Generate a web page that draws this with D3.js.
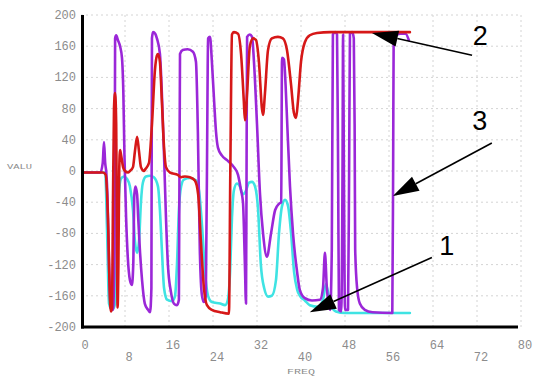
<!DOCTYPE html>
<html><head><meta charset="utf-8">
<script src="https://cdn.jsdelivr.net/npm/d3@7"></script>
<style>html,body{margin:0;padding:0;background:#fff;}svg{display:block;}</style>
</head><body>
<svg id="c" width="538" height="381"></svg>
<script>
// ---- data (frequency, value) ----
const xTicks = [0, 8, 16, 24, 32, 40, 48, 56, 64, 72, 80];
const yTicks = [-200, -160, -120, -80, -40, 0, 40, 80, 120, 160, 200];
const yLabel = "VALU";
const xLabel = "FREQ";

const series1Freq = [0.3,4.4,4.75,5.1,5.65,6.2,6.55,6.9,7.25,7.8,8.35,8.9,9.45,9.8,10.2,10.55,10.9,11.25,11.8,12.55,13.25,14.0,14.35,14.7,15.1,15.65,16.55,17.1,17.45,17.8,18.2,18.7,19.8,20.9,21.45,22.0,22.55,23.1,23.8,25.3,26.2,26.7,27.1,27.45,27.8,28.35,28.9,29.45,30.0,30.55,31.1,31.65,32.2,32.7,33.3,34.0,34.7,35.45,36.0,36.55,37.1,37.65,38.2,38.75,39.3,39.8,40.7,41.6,43.1,44.0,44.55,44.9,45.45,46.35,48.0,59.8];
const series1Val  = [-2,-2,-80,-170,-178,-170,-100,-30,-10,-7,-10,-20,-50,-90,-105,-90,-40,-15,-7,-6,-8,-20,-50,-100,-150,-165,-167,-160,-120,-50,-20,-11,-9,-12,-25,-70,-130,-160,-168,-170,-172,-165,-130,-60,-25,-16,-20,-30,-25,-15,-14,-20,-50,-120,-150,-161,-160,-140,-80,-45,-37,-45,-80,-130,-152,-160,-166,-172,-174,-165,-145,-155,-172,-180,-182,-182];

const series2Freq = [0.3,4.0,4.5,4.9,5.3,5.45,5.65,5.8,6.0,6.2,6.4,6.55,6.65,6.8,6.95,7.1,7.3,7.65,8.0,8.55,8.9,9.45,9.8,10.2,10.55,10.9,11.45,11.65,12.35,12.9,13.45,13.8,14.0,14.35,14.7,15.1,15.45,16.2,17.6,18.2,18.9,19.8,20.7,21.3,21.8,22.35,22.9,23.8,25.3,26.9,27.15,27.45,27.8,28.55,29.1,29.6,29.8,30.2,30.7,31.3,31.8,32.35,32.9,33.1,33.45,34.0,34.7,35.8,36.7,37.45,38.2,38.7,39.1,39.45,40.0,40.7,41.6,42.9,45.3,59.8];
const series2Val  = [-2,-2,-5,-60,-170,-180,-175,-50,80,100,60,-100,-175,-120,0,27,20,5,0,-2,0,5,25,44,25,5,0,2,10,60,130,148,150,140,90,30,5,-2,-5,-8,-7,-8,-12,-30,-90,-150,-172,-178,-181,-183,0,175,178,176,150,90,65,100,160,170,168,140,80,72,100,155,170,172,170,155,110,75,68,90,140,165,174,177,178,178];

const series3Freq = [0.3,3.5,3.95,4.18,4.4,4.6,4.8,5.1,5.4,5.8,6.1,6.2,6.4,6.7,7.1,7.45,7.7,7.9,8.2,8.5,8.9,9.25,9.5,9.7,9.9,10.2,10.4,10.7,11.1,11.6,12.2,12.55,12.8,12.9,13.1,13.5,13.8,14.35,14.7,15.1,15.45,15.8,16.35,16.9,17.45,17.8,18.0,18.5,19.4,20.35,20.9,21.25,21.6,22.0,22.35,22.7,23.0,23.1,23.45,23.8,24.2,24.55,24.9,25.6,26.7,27.8,28.55,29.1,29.45,29.8,30.0,30.1,30.2,30.7,31.1,31.45,32.0,32.55,33.1,33.8,34.55,35.3,36.0,36.4,36.55,36.9,37.2,37.5,38.0,38.55,39.3,39.8,40.7,42.0,43.45,44.0,44.35,44.7,45.3,45.6,45.8,46.2,46.55,46.75,46.9,47.3,47.55,47.65,47.8,48.0,48.55,48.75,48.9,49.3,49.6,49.75,49.85,50.2,50.7,51.6,53.0,56.6,56.75,56.85,58.0,59.0,59.6];
const series3Val  = [-2,-2,10,37,10,-2,-30,-120,-175,-178,-100,170,174,168,160,145,100,20,-60,-110,-140,-146,-120,-30,-20,-30,-60,-100,-140,-170,-178,-181,-150,170,178,176,170,150,100,20,-60,-120,-155,-170,-172,-165,150,155,156,153,140,50,-100,-160,-168,-160,100,170,172,140,90,50,30,20,13,5,-5,-25,-40,-120,-170,0,172,175,172,140,60,-30,-80,-110,-80,-50,-42,-40,145,143,110,60,-20,-80,-130,-153,-163,-166,-165,-150,-105,-150,-178,-100,175,178,175,0,-178,-180,0,175,0,-178,-178,0,176,178,170,60,-100,-150,-170,-178,-181,-182,0,172,176,176,168];

const seriesColors = {s1: "#3fe3e3", s2: "#d61818", s3: "#9b27d8"};

// annotations: label, label position (freq, value), arrow tail and tip (freq, value)
const annotations = [
  {label: "1", lf: 66.5, lv: -108, tf: 63.8, tv: -111, hf: 41.6, hv: -181},
  {label: "2", lf: 72.6, lv: 161, tf: 71.1, tv: 148.5, hf: 52.9, hv: 177},
  {label: "3", lf: 72.5, lv: 52, tf: 74.7, tv: 36, hf: 56.7, hv: -32}
];

// ---- drawing ----
const svg = d3.select("#c");
const x = d3.scaleLinear().domain([0, 80]).range([81, 521]);
const y = d3.scaleLinear().domain([-200, 200]).range([327, 15]);

// grid
const grid = svg.append("g").attr("stroke", "#d4d4d4").attr("stroke-width", 1).attr("stroke-dasharray", "2,3");
grid.selectAll("line.h").data(yTicks.filter(d => d > -200)).join("line")
  .attr("x1", x(0)).attr("x2", x(80)).attr("y1", d => y(d)).attr("y2", d => y(d));
grid.selectAll("line.v").data(xTicks.filter(d => d > 0)).join("line")
  .attr("x1", d => x(d)).attr("x2", d => x(d)).attr("y1", y(200)).attr("y2", y(-200));

// y tick labels
const tickFont = "'Liberation Mono', 'DejaVu Sans Mono', monospace";
svg.append("g").selectAll("text").data(yTicks).join("text")
  .attr("x", 76).attr("y", d => y(d) + 4)
  .attr("text-anchor", "end").attr("font-family", tickFont).attr("font-size", 12)
  .attr("fill", "#8c8c8c").text(d => d);

// x tick labels (staggered)
svg.append("g").selectAll("text").data(xTicks).join("text")
  .attr("x", d => x(d) + 4).attr("y", (d, i) => i % 2 === 0 ? 349 : 361)
  .attr("text-anchor", "middle").attr("font-family", tickFont).attr("font-size", 12)
  .attr("fill", "#8c8c8c").text(d => d);

svg.append("text").attr("x", 7).attr("y", 169).attr("font-family", tickFont)
  .attr("font-size", 8).attr("fill", "#8c8c8c").attr("textLength", 25)
  .attr("lengthAdjust", "spacingAndGlyphs").text(yLabel);
svg.append("text").attr("x", 287).attr("y", 374).attr("font-family", tickFont)
  .attr("font-size", 8).attr("fill", "#8c8c8c").attr("textLength", 28)
  .attr("lengthAdjust", "spacingAndGlyphs").text(xLabel);

// series
const line = d3.line().curve(d3.curveMonotoneX).x(d => x(d[0])).y(d => y(d[1]));
const mk = (f, v) => f.map((d, i) => [d, v[i]]);
const plot = svg.append("g").attr("fill", "none").attr("stroke-width", 2.6)
  .attr("stroke-linejoin", "round").attr("stroke-linecap", "round");
plot.append("path").datum(mk(series1Freq, series1Val)).attr("stroke", seriesColors.s1).attr("d", line);
plot.append("path").datum(mk(series3Freq, series3Val)).attr("stroke", seriesColors.s3).attr("d", line);
plot.append("path").datum(mk(series2Freq, series2Val)).attr("stroke", seriesColors.s2).attr("d", line);

// axes lines
svg.append("line").attr("x1", x(0) + 1.5).attr("x2", x(0) + 1.5).attr("y1", y(200)).attr("y2", y(-200) + 1.5)
  .attr("stroke", "#000").attr("stroke-width", 3);
svg.append("line").attr("x1", x(0)).attr("x2", x(80) - 3).attr("y1", y(-200)).attr("y2", y(-200))
  .attr("stroke", "#000").attr("stroke-width", 3);

// annotations
const ann = svg.append("g");
annotations.forEach(a => {
  const x1 = x(a.tf), y1 = y(a.tv), x2 = x(a.hf), y2 = y(a.hv);
  const ang = Math.atan2(y2 - y1, x2 - x1);
  const L = 26, W = 8;
  const bx = x2 - L * Math.cos(ang), by = y2 - L * Math.sin(ang);
  ann.append("line").attr("x1", x1).attr("y1", y1).attr("x2", bx).attr("y2", by)
    .attr("stroke", "#000").attr("stroke-width", 1.6);
  const px = -Math.sin(ang) * W, py = Math.cos(ang) * W;
  ann.append("path").attr("d", `M${x2},${y2}L${bx + px},${by + py}L${bx - px},${by - py}Z`).attr("fill", "#000");
  ann.append("text").attr("x", x(a.lf)).attr("y", y(a.lv)).attr("text-anchor", "middle")
    .attr("font-family", "'Liberation Sans', Arial, sans-serif").attr("font-size", 27)
    .attr("fill", "#000").text(a.label);
});
</script>
</body></html>
